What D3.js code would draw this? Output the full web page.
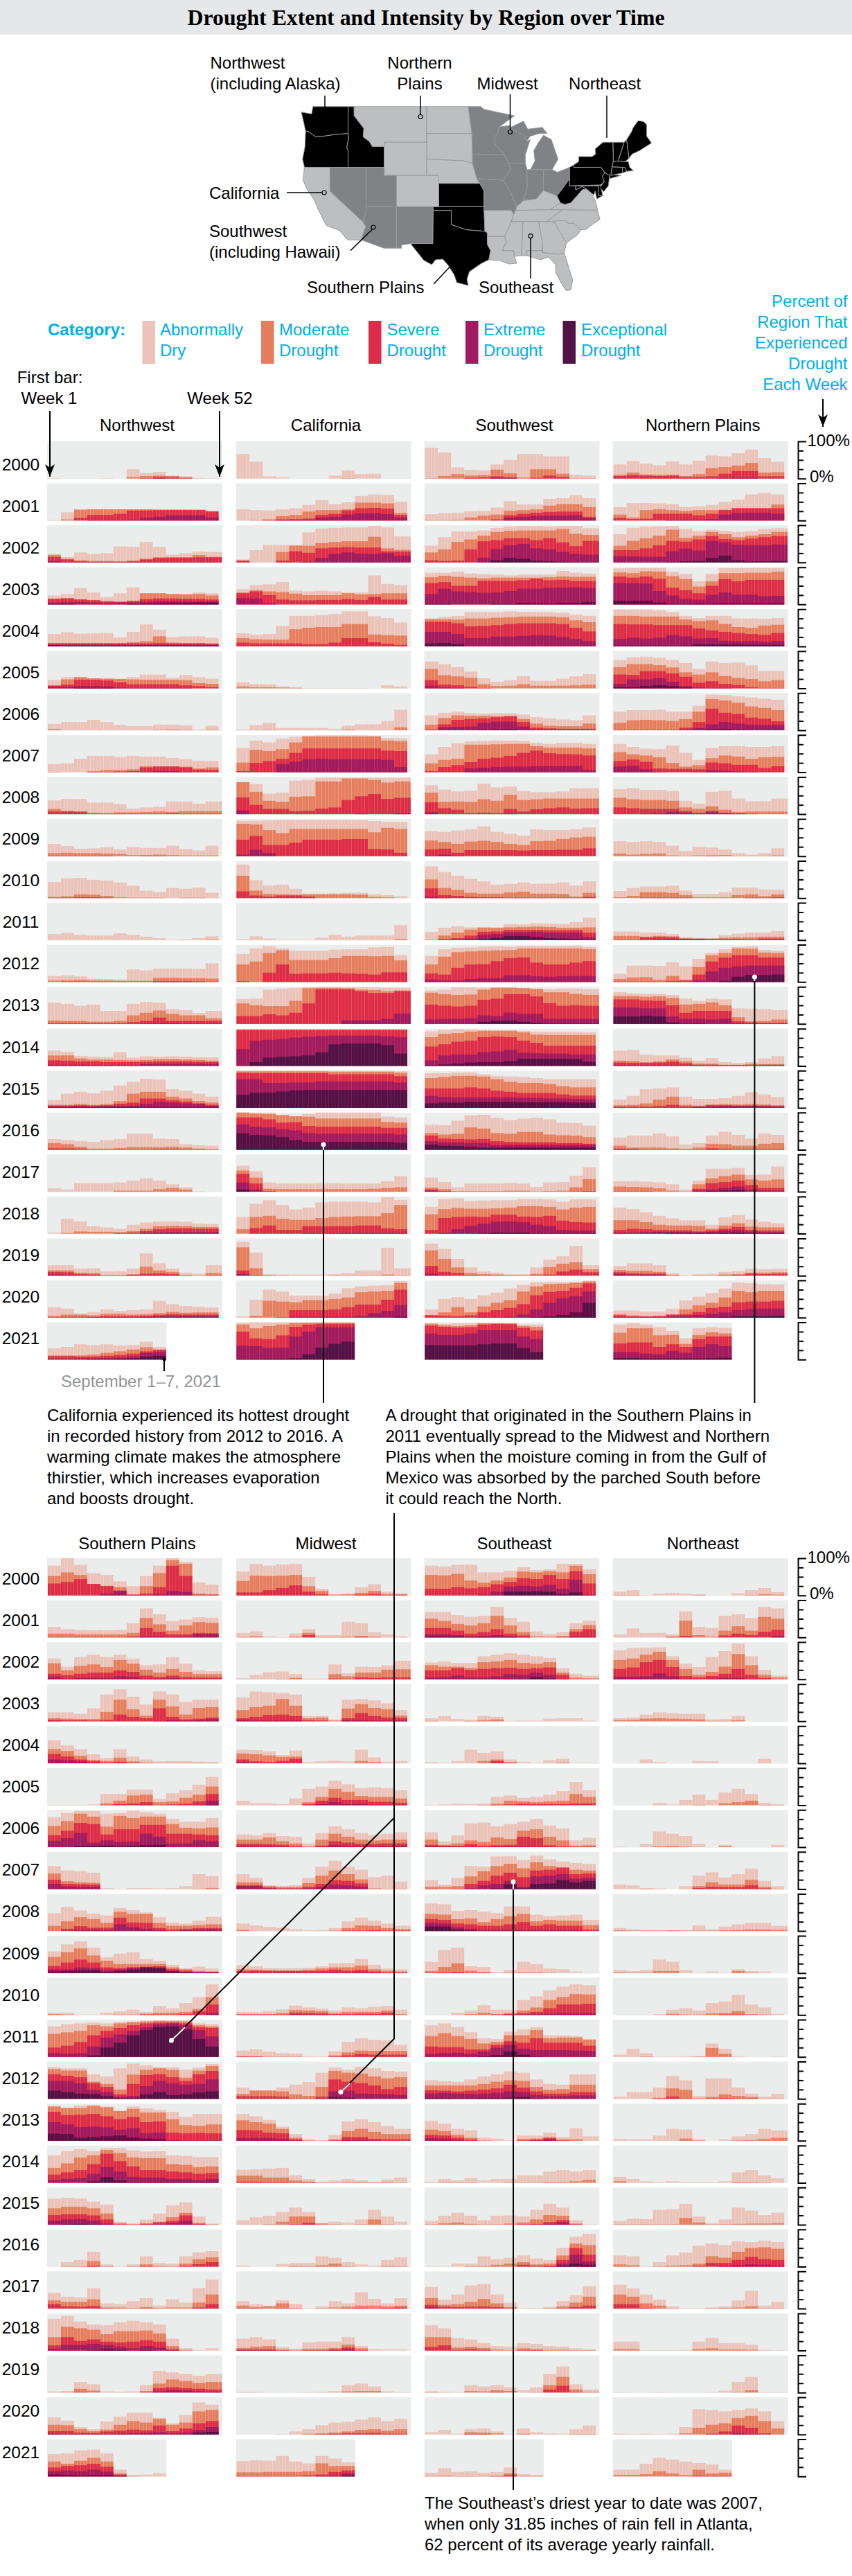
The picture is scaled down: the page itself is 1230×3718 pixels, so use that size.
<!DOCTYPE html>
<html lang="en">
<head>
<meta charset="UTF-8">
<title>Drought Extent and Intensity by Region over Time</title>
<script src="https://d3js.org/d3.v7.min.js"></script>
<style>
  body { margin: 0; background: #fff; }
  svg { display: block; font-family: "Liberation Sans", Arial, sans-serif; }
  .blue { fill: #00aeef; }
</style>
</head>
<body>
<svg id="chart" width="1230" height="3718"></svg>
<script>
// years, one row per year in each region array
const years = d3.range(2000, 2022);
const longYears = [2002, 2008, 2013, 2019]; // these have a 53rd weekly bar
const weeksIn2021 = 36;
const weeksPerValue = 4; // values, one per 4 weeks
const categories = ["Abnormally Dry", "Moderate Drought", "Severe Drought", "Extreme Drought", "Exceptional Drought"];
const categoryColors = ["#ebc3b8", "#e67e5d", "#dd2c47", "#a01b5f", "#511345"];
const tickLabels = ["100%", "0%"];

// each year: cumulative percent of the region at D0+, D1+, D2+, D3+, D4
const northwest = [
[[1,0,0,0,1,0,25,15,18,8,6,2,1],[0,0,0,0,0,0,4,7,8,7,4],[0,0,0,0,0,0,0,1,4,3,1],[0,0,0,0,0,0,0,0,1]],
[[1,22,30,30,30,30,30,30,30,30,30,29,26],[0,3,29,30,30,30,30,30,29,29,29,29,25],[0,0,7,15,15,18,27,27,28,28,28,28,24],[0,0,0,1,1,1,2,7,10,14,14,14,8]],
[[23,15,27,23,25,43,42,55,42,21,25,29,28],[20,10,6,4,4,3,5,10,14,14,14,20,15],[15,8,3,2,2,2,3,8,12,13,13,14,14],[4,1,1,1,1,1,1,1,1,1,1,1,1]],
[[24,28,44,32,20,30,46,30,30,28,28,32,30],[15,17,14,12,9,7,10,30,30,28,27,28,24],[15,16,13,11,8,7,9,14,16,16,15,15,13],[5,6,6,5,4,5,5,7,9,9,9,8,8],[1,1,0,0,0,0,1,2,3,4,4,5,5]],
[[33,38,34,35,36,24,39,59,45,25,27,27,23],[9,9,9,9,9,9,11,14,27,10,9,9,8],[8,8,8,8,8,8,8,8,9,8,8,8,7],[4,4,4,4,4,4,4,4,4,4,4,4,4],[3,2,2,2,2,2,2,2,2,2,2,2,2]],
[[22,30,30,27,26,26,30,37,37,28,36,30,26],[8,24,30,27,26,25,24,23,23,23,22,14,12],[7,10,23,23,21,16,11,11,11,11,8,6,3],[4,4,6,6,5,2,1,1,1,1,1,0,0],[0,0,1,1,1]],
[[17,22,22,28,22,14,11,11,15,15,13,2,12],[3,0,0,0,0,0,0,0,1,2,1,0,1]],
[[22,24,36,44,44,41,44,42,42,38,35,31,30],[1,0,0,3,6,6,8,16,16,16,15,10,13],[0,0,0,1,1,2,3,13,15,15,13,7,6],[0,0,0,0,0,0,0,1,3,3,1]],
[[37,41,41,31,31,27,15,18,20,34,34,28,34],[14,9,8,4,3,5,5,6,7,6,8,8,8],[7,7,6,1,1,1,1,1,1,2,1,1,1]],
[[33,27,20,21,24,18,24,22,22,28,19,15,28],[8,9,8,8,7,6,3,3,4,3,2,2,2],[1,1,1,1,1,0,0,1,1]],
[[43,53,54,49,47,42,33,20,16,27,25,28,14],[3,5,10,9,6,2,1,1,1,0,1,1,0],[1,1,2,2,1]],
[[16,19,14,12,12,18,14,9,5,1,2,5,10],[0,0,0,0,0,0,0,0,0,0,0,0,1]],
[[16,18,15,9,8,7,34,31,36,36,36,35,50],[4,5,6,4,4,3,3,3,11,11,10,10,9],[0,1,1,1,1,1,1,1,2,2,2,1,1],[0,0,0,0,0,0,0,0,1,1,1,1]],
[[57,54,49,52,35,35,54,59,57,40,37,29,35],[9,8,8,6,6,8,23,30,36,27,23,23,15],[2,2,2,2,2,2,5,8,17,8,8,8,8],[0,0,0,0,0,0,0,1,2,2,1,1,1]],
[[41,38,27,25,24,37,22,26,25,26,25,23,23],[28,28,20,17,17,16,15,16,18,18,17,16,14],[15,14,12,12,10,10,10,11,12,12,12,11,10],[3,3,3,2,2,2,2,5,6,6,6,6,5]],
[[21,38,43,39,46,60,70,78,76,50,46,38,30],[8,8,10,8,10,18,38,43,43,30,25,18,14],[6,6,7,6,7,11,14,25,25,20,17,12,8],[3,3,4,3,5,5,6,11,16,14,12,10,5],[1,1,1,1,1,1,1,1,1,1,1,1,1]],
[[29,26,23,21,26,29,43,43,30,29,15,12,11],[18,15,8,3,3,5,7,7,7,8,6,3,1],[4,4,3,1,1,1,1,1,2,2,1,1,1]],
[[9,6,23,23,23,25,30,36,30,20,12,1,0],[0,0,0,0,0,3,3,3,7,10,6]],
[[3,40,33,20,17,13,24,30,33,33,32,27,26],[0,2,6,5,5,4,7,13,20,21,20,18,18],[0,0,0,0,0,2,3,7,12,14,14,13,13],[0,0,0,0,0,0,0,2,3,4,4,4,4]],
[[28,28,19,20,11,12,19,60,33,19,8,5,28],[14,14,8,7,2,2,4,24,14,10,2,1,7],[10,9,4,3,1,1,2,5,6,4,1,0,1],[3,2,1,1,0,0,1,1,1,1]],
[[28,24,11,15,22,18,20,22,45,36,31,29,27],[5,8,8,6,10,10,8,9,12,15,13,14,14],[1,2,2,2,4,4,4,5,7,9,8,8,8],[0,0,0,1,1,1,1,2,3,4,4,5,4]],
[[30,34,41,39,41,38,39,48,34],[11,11,11,13,18,22,27,33,27],[9,9,8,8,10,12,16,22,26],[2,2,3,3,4,5,8,18,20],[0,0,0,1,1,2,3,8,10]]
];
const california = [
[[66,45,6,3,0,0,0,8,22,12,13],[0,0,0,0,0,0,0,0,1]],
[[30,28,27,30,33,42,55,44,49,66,70,69,50],[0,1,3,12,15,24,28,28,30,48,48,46,20],[0,0,1,3,4,5,15,18,27,33,34,32,15],[0,0,0,1,1,2,8,10,16,19,19,17,8]],
[[8,33,47,47,47,81,91,93,94,94,98,94,70],[5,0,0,28,45,45,52,55,57,57,69,38,34],[5,0,0,5,30,26,38,40,41,40,40,30,29],[0,0,0,0,0,2,12,23,27,23,23,25,18]],
[[41,52,54,60,37,35,37,35,32,32,78,55,52],[32,38,35,33,29,25,25,25,30,27,28,30,30],[30,35,25,13,11,11,12,12,14,12,20,13,13],[17,16,3]],
[[35,31,33,55,82,82,84,87,94,94,81,76,64],[22,19,18,18,46,50,52,52,60,60,32,30,29],[10,8,8,8,8,6,6,10,22,22,11,7,4]],
[[16,12,11,5,3,1,1,1,1,1,0,8,5],[5,3,3,2,1]],
[[2,14,20,6,6,6,6,4,12,16,16,25,55],[0,0,1,0,0,0,0,0,2,0,0,0,8]],
[[65,85,80,90,95,98,99,99,99,99,98,92,91],[26,60,57,62,80,96,96,96,96,96,96,85,83],[3,25,30,36,52,64,64,64,64,64,64,58,57],[0,0,0,22,28,35,36,35,35,35,35,33,14]],
[[86,81,55,58,90,92,98,98,98,98,98,98,98],[86,60,36,33,47,48,88,88,96,96,92,85,88],[45,25,14,14,8,9,15,18,38,48,54,41,44],[10,0,0,0,0,0,0,0,0,1,0,0,2]],
[[95,95,96,97,97,97,97,97,97,97,94,92,92],[87,85,70,62,73,73,73,73,73,73,64,76,73],[44,54,30,30,36,44,44,44,46,46,19,18,9],[4,17,8]],
[[90,48,34,36,25,12,12,13,14,14,10,8,5],[60,20,11,10,9,10,10,10,10,9,3,2,0],[18,7,4,7,7,4]],
[[2,10,4,1,1,1,6,14,9,12,12,12,40],[0,0,0,0,0,0,0,0,0,0,0,0,3]],
[[75,90,96,90,84,84,84,87,88,88,93,94,72],[47,55,78,85,59,59,59,64,70,70,69,70,58],[2,0,25,47,22,23,23,25,23,22,20,26,26]],
[[67,68,92,95,97,99,99,99,99,99,98,97,97],[55,50,48,48,62,96,97,97,96,92,91,88,90],[21,21,26,23,30,55,93,93,93,88,83,83,88],[0,0,0,0,0,0,0,0,10,10,10,13,28]],
[[99,99,99,99,99,99,99,99,99,99,99,99,99],[98,98,98,98,98,98,98,98,98,98,98,98,98],[96,96,96,96,96,96,96,96,96,96,96,96,96],[45,68,70,72,76,78,80,81,81,81,81,79,77],[0,10,22,24,26,28,36,58,60,60,60,56,33]],
[[100,100,100,100,100,100,100,100,100,100,100,100,98],[98,98,98,98,98,98,98,97,97,97,97,97,94],[94,93,93,93,93,93,93,90,90,90,90,90,85],[77,77,67,67,68,68,71,71,71,71,71,71,68],[35,40,41,44,47,48,48,48,48,48,48,48,48]],
[[100,100,100,94,91,96,100,100,100,100,100,89,87],[100,97,96,93,90,89,84,84,84,84,84,75,73],[87,87,82,73,74,64,62,62,62,62,62,59,59],[68,62,60,55,52,45,43,43,43,43,43,43,41],[44,40,39,34,26,21,21,21,21,21,21,21,19]],
[[70,55,25,22,22,22,23,23,22,22,22,28,42],[57,38,8,7,7,7,7,7,7,7,8,10,12],[48,22,2],[25,6],[6]],
[[45,80,90,77,65,70,84,86,86,86,84,98,91],[12,45,48,40,37,37,42,45,46,47,47,55,77],[0,15,22,10,10,20,20,20,20,22,22,14,12],[0,0,0,0,0,1,1,1,2,2,2,2,2]],
[[91,62,4,3,3,3,3,4,7,14,14,75,20],[76,20,2,1,0,0,0,1,1,1,1,3,1],[14,2],[4]],
[[3,48,75,70,59,59,59,65,79,84,86,87,98],[0,5,45,43,41,47,47,50,54,68,70,72,93],[0,0,0,1,20,20,20,22,28,35,35,48,75],[0,0,0,0,2,2,2,2,2,4,12,18,34],[0,0,0,0,0,0,0,0,0,0,0,0,2]],
[[99,100,100,100,100,100,100,100,100],[94,84,90,94,98,99,99,99,99],[75,57,55,65,88,94,96,96,96],[37,36,31,32,62,75,87,87,87],[1,1,2,2,4,14,32,42,48]]
];
const southwest = [
[[83,70,30,23,22,38,50,66,66,60,60,10,8],[1,7,12,8,9,24,14,3,25,25,13,1,1],[0,0,0,2,3,6,3,0,2,8,4],[0,0,0,0,0,2,2]],
[[17,20,21,25,26,35,52,43,43,58,60,68,60],[1,1,2,8,13,16,26,28,30,40,44,44,36],[0,0,0,0,0,3,14,18,21,23,24,24,10],[0,0,0,0,0,0,8,10,12,13,13,14,6]],
[[45,68,83,83,86,93,97,98,98,97,98,98,92],[27,35,55,62,72,82,85,86,86,86,90,77,74],[6,4,5,35,57,60,65,65,60,65,54,44,58],[0,0,0,0,13,36,46,50,38,35,28,23,21],[0,0,0,0,0,6,12,10,5,3,2,1,1]],
[[85,85,88,83,81,80,78,80,80,80,90,85,83],[73,77,74,72,70,72,72,72,72,73,75,74,74],[57,60,50,50,63,63,63,65,69,65,66,63,63],[28,42,35,33,31,32,36,42,42,44,45,46,44],[1,1,0,0,0,1,1,4,3,2,4,4,6]],
[[75,79,82,92,92,92,94,93,93,92,90,85,82],[73,73,72,75,75,77,78,80,80,80,78,70,65],[66,66,62,54,55,57,60,62,62,62,60,50,40],[39,39,33,22,22,26,26,28,30,29,25,20,14],[8,9,6]],
[[72,65,57,45,27,18,22,33,20,20,26,32,38],[52,35,32,28,11,6,7,11,7,7,7,8,10],[22,10,8,4,1],[7,2,1]],
[[40,47,50,46,45,46,46,42,35,32,29,27,40],[15,33,40,39,39,38,39,30,18,12,11,11,18],[2,16,28,30,32,35,37,22,7,5,4,4,4],[0,8,9,10,20,23,23,10,2,1,1,1,1],[0,0,0,0,1,2,2]],
[[48,68,78,83,84,85,85,84,79,76,79,79,76],[24,33,36,74,74,75,76,76,70,66,66,66,64],[3,14,19,27,36,39,44,52,58,51,49,48,45],[0,0,0,10,12,14,15,15,16,16,16,17,6]],
[[78,66,61,63,82,72,74,62,59,59,61,70,70],[58,33,34,33,40,36,52,38,40,42,42,42,42],[32,16,12,3,4,3,14,7,13,16,18,15,16],[5,0,0,0,0,0,1]],
[[67,65,69,72,80,65,60,55,72,70,70,72,77],[42,38,33,39,41,38,33,30,40,41,46,50,52],[18,20,9,16,16,16,16,15,16,16,17,17,21],[1,4,1]],
[[85,70,60,52,45,36,38,42,38,39,42,34,45],[50,27,22,14,12,12,15,17,12,12,11,4,14],[26,8,6,3,2,2,1,1,1,1,1,1,3],[3,1]],
[[22,33,37,34,35,34,43,42,45,44,43,48,60],[1,12,20,28,33,33,34,35,36,35,33,33,34],[0,3,5,12,22,23,27,27,27,26,26,27,20],[0,0,1,4,14,16,21,21,22,20,19,20,8],[0,0,0,0,2,6,11,11,8,5,4,3,1]],
[[70,88,92,93,95,96,95,97,97,97,97,98,94],[47,68,80,82,84,85,86,90,90,90,90,90,88],[23,20,38,47,48,56,64,66,52,47,47,52,56],[6,4,4,8,10,10,18,18,15,14,15,16,16]],
[[90,92,98,98,97,98,98,97,95,93,95,95,93],[84,80,78,79,92,97,97,96,94,85,85,81,78],[52,49,47,49,65,68,80,80,74,56,49,50,49],[12,13,14,15,23,21,30,27,27,14,13,13,13],[0,0,0,0,6,8,9,6,3,1,1,1,1]],
[[93,97,99,98,97,96,96,94,92,92,92,91,90],[77,86,88,92,94,94,94,90,84,83,83,83,83],[52,58,65,68,77,79,77,68,62,54,54,54,54],[15,28,31,30,37,39,43,35,34,33,33,31,31],[2,4,6,9,10,10,13,19,19,19,19,18,11]],
[[93,93,95,95,90,86,84,83,80,77,77,77,77],[80,83,86,86,84,77,70,67,67,64,58,55,55],[52,52,52,55,52,46,43,40,40,40,36,33,33],[32,29,28,28,28,28,28,27,26,25,25,24,23],[12,14,14,16,16,16,16,15,15,15,15,14,14]],
[[67,66,78,92,94,86,80,84,86,82,73,72,65],[45,41,43,60,57,45,43,48,48,41,39,38,34],[38,30,29,28,29,23,21,20,20,20,18,18,16],[23,20,20,18,18,13,13,13,13,13,13,13,13],[14,11,10,8,6,6,6,6,6,6,6,6,6]],
[[38,26,12,22,22,22,24,22,13,25,26,43,66],[11,7,2,2,2,2,3,3,1,2,3,12,34],[6,2,0,0,0,0,0,0,0,0,0,1,2],[3]],
[[72,93,95,88,89,90,90,93,93,92,86,92,92],[52,66,69,67,67,68,70,74,74,72,65,70,72],[10,42,45,46,45,51,51,46,45,48,35,31,30],[0,2,12,21,27,32,33,31,24,20,10,9,9],[0,0,0,0,1,3,3,3,1,1,1,1,1]],
[[86,72,45,22,11,8,4,4,22,43,52,80,28],[68,45,22,7,4,3,2,2,5,23,32,36,17],[26,10,7,2,1,1,0,0,1,3,11,16,9],[5,1]],
[[22,50,55,50,60,67,78,88,95,95,95,96,99],[7,14,28,14,30,40,47,70,84,90,91,93,97],[6,5,4,6,14,20,26,36,60,69,72,80,92],[0,0,0,0,1,1,2,8,22,40,52,57,70],[0,0,0,0,0,0,0,0,1,3,7,14,40]],
[[98,96,98,98,99,98,98,94,94],[96,92,90,92,97,97,97,90,88],[91,88,86,87,94,96,95,85,78],[70,66,66,70,79,79,79,62,55],[39,38,38,38,41,43,43,31,20]]
];
const northernPlains = [
[[38,47,40,36,46,38,48,62,60,68,78,55,45],[10,16,11,10,10,7,12,28,31,35,42,16,17],[7,9,8,7,8,4,4,6,13,20,20,6,6],[0,0,0,0,0,0,0,0,1,2,2]],
[[36,47,47,46,44,36,38,42,50,56,70,74,70],[16,8,28,30,28,26,28,28,29,33,33,33,43],[7,4,5,18,18,18,14,18,28,33,33,33,33],[0,0,0,0,1,2,2,4,16,20,21,21,18]],
[[76,93,96,97,98,90,84,88,85,82,84,90,92],[45,58,65,72,88,66,72,82,76,68,72,76,82],[33,33,38,46,58,56,62,71,63,60,64,68,71],[17,16,15,15,30,37,32,58,54,47,46,46,48],[0,0,0,0,1,3,4,12,18,6,3,3,4]],
[[97,98,98,98,88,82,62,82,98,98,98,98,98],[86,84,89,88,76,68,48,62,84,84,85,85,88],[75,72,75,69,45,38,30,50,68,62,66,66,66],[57,57,56,36,24,15,13,26,32,26,26,22,23],[10,10,10,5,1,1,2,2,3,3,3,3,3]],
[[99,99,99,97,92,82,76,82,82,75,75,74,76],[82,82,80,80,80,72,68,70,60,52,50,56,58],[60,59,59,57,57,57,48,43,39,36,33,31,36],[20,23,21,23,30,27,21,22,15,14,14,12,14],[2,2,2,2,1,2,5,5,5,5,4,4,4]],
[[76,83,85,82,76,68,52,72,68,69,62,47,47],[57,65,65,62,56,43,37,43,33,28,25,19,22],[37,36,46,46,40,31,15,19,12,9,3,1,1],[12,24,24,27,18,6,2,1,1],[3,3,6,8,6,2]],
[[50,54,54,55,50,50,66,96,95,91,88,85,82],[20,27,28,27,25,30,50,84,80,74,64,60,54],[1,1,1,1,1,7,22,58,47,44,34,31,24],[0,0,0,0,0,1,6,16,22,18,15,14,14],[0,0,0,0,0,0,0,2,3,1]],
[[76,68,63,62,72,52,33,65,70,70,68,68,70],[54,48,45,40,25,15,19,38,45,42,36,40,41],[30,34,28,10,9,9,8,26,24,20,20,11,16],[15,17,8,1,0,0,1,5,4,2,1]],
[[67,70,65,65,62,36,28,60,63,42,35,35,42],[44,40,38,38,36,18,14,21,12,6,7,7,7],[18,16,14,14,14,8,4,9,4,2,1],[0,0,1,2,6,4,1,5,2,1]],
[[40,38,40,38,28,14,25,23,18,8,4,8,21],[7,4,6,7,2,1,2,2,3,1,1,1,2],[0,0,0,0,0,0,0,1]],
[[19,27,31,31,33,20,11,11,16,28,28,23,23],[2,6,16,16,14,8,2,2,2,8,10,5,10],[0,0,1,1,1,1,0,0,0,0,1,1,2]],
[[23,23,20,20,16,8,6,5,13,17,20,20,24],[11,11,9,11,10,5,4,4,6,7,7,9,9],[1,1,7,8,7,3,3,2,2,2,2,4,4],[0,0,0,1,2,2,2,1,1,1,0,1,1]],
[[22,44,44,43,53,42,62,78,88,94,96,86,84],[8,12,13,6,16,6,40,72,78,90,89,79,78],[1,1,1,1,3,4,20,55,66,72,72,66,66],[0,0,0,0,0,0,5,28,38,42,44,44,44],[0,0,0,0,0,0,0,0,3,14,19,19,20]],
[[85,82,81,81,78,68,62,68,66,42,41,40,37],[75,75,73,74,70,52,54,58,50,18,7,8,12],[66,66,63,62,50,30,35,35,35,7,4,3,3],[44,44,42,42,20,13,14,12,14,2,1,1,1],[20,20,22,20,4,1,1]],
[[41,43,30,28,28,22,14,21,10,8,10,20,26],[14,13,10,12,17,12,6,6,3,3,5,5,5],[9,8,8,9,11,7,3,3,2,2,2,3,3],[2,2,2,2,2,1,1,1,1,1,1,1,1]],
[[22,32,50,52,55,30,24,24,26,32,42,36,29],[7,8,12,22,30,8,6,9,10,9,10,9,7],[3,3,3,5,8,4,4,7,7,6,6,6,5],[0,0,0,0,0,0,2,4,5,5,5,4,3]],
[[33,38,38,44,36,14,18,38,48,40,30,44,40],[11,6,6,6,4,2,6,16,15,11,11,16,18],[3,2,1,1,1,1,1,4,3,2,2,2,2],[1,1,0,0,0,0,0,1]],
[[28,28,27,25,20,6,30,62,62,64,45,46,68],[14,13,12,9,3,1,20,36,42,46,33,30,33],[1,1,1,0,0,0,8,23,26,30,18,10,10],[0,0,0,0,0,0,3,6,10,14,6,3,3],[0,0,0,0,0,0,0,2,3,5]],
[[70,66,58,48,41,36,36,24,44,50,38,32,28],[36,36,31,24,22,22,21,13,22,28,19,17,17],[10,13,12,10,9,9,6,9,13,18,10,8,8],[3,3,4,5,5,5,4,5,8,10,6,4,4],[0,0,0,0,1,1,1,1,2,3,1,1,1]],
[[26,33,33,28,7,2,4,5,10,12,18,17,18],[15,13,13,10,2,0,1,1,3,4,8,8,9],[9,6,5,5,1,0,0,0,1,2,5,4,5],[4,3,3,3]],
[[19,19,16,16,24,46,56,66,78,94,92,90,89],[9,6,4,4,8,22,33,40,54,72,68,72,72],[6,3,3,4,8,9,15,26,29,41,43,43,45],[1,1,1,1,3,5,7,10,14,20,23,24,24],[0,0,0,0,0,0,0,1,2,4,4,4,5]],
[[94,98,94,87,77,57,84,87,85],[72,84,84,65,66,42,66,73,70],[43,46,46,34,41,34,55,62,62],[20,20,16,14,23,18,34,41,36],[4,4,3,3,3,3,3,4,5]]
];
const southernPlains = [
[[80,100,82,60,55,38,25,52,80,100,90,35,29],[52,62,55,30,26,22,3,25,60,95,85,5,3],[32,36,44,31,25,11,2,5,22,80,52,2,2],[0,0,0,0,5,13,1,1,3,12,9]],
[[28,22,20,19,19,20,38,78,62,44,48,54,53],[10,10,8,8,8,8,12,52,35,18,32,41,39],[1,1,1,1,1,1,3,25,15,8,8,12,11],[0,0,0,0,0,0,0,3,2,1,2,8,9]],
[[56,34,60,66,60,66,55,38,40,60,42,24,22],[43,24,36,40,33,52,42,26,18,28,20,14,14],[15,11,15,18,18,24,20,10,6,10,6,5,5],[7,2,4,4,4,8,6,2,2,3,1],[0,0,0,0,0,0,0,1,1,1]],
[[24,24,20,35,72,86,66,45,80,72,52,58,58],[8,7,6,6,25,58,32,15,58,40,18,36,38],[4,3,3,2,4,18,12,8,35,12,5,7,10],[1,0,0,0,0,0,0,0,1,3,2,3,6]],
[[62,48,38,24,14,38,18,10,5,6,6,4,3],[38,33,20,9,6,15,5,2,1,1,1,1,1],[25,18,10,5,2,4,1],[10,8,5,1]],
[[1,1,1,2,30,30,42,42,17,32,40,55,76],[0,0,0,0,5,12,26,28,8,10,20,28,50],[0,0,0,0,1,3,5,8,1,2,4,10,30],[0,0,0,0,0,0,0,1,0,0,0,1,12],[0,0,0,0,0,0,0,0,0,0,0,0,1]],
[[80,92,97,97,90,92,98,94,90,76,68,68,78],[57,70,90,82,55,84,78,82,82,62,52,50,53],[32,44,65,62,34,48,48,60,60,36,36,34,32],[17,24,38,12,18,14,15,36,28,10,10,18,16],[0,0,3,3,4,2,3,5,6]],
[[62,50,48,44,3,1,3,3,2,3,8,40,35],[42,21,18,17,0,0,0,0,0,0,0,1,3],[25,14,13,12],[14,7,6,6]],
[[48,65,55,47,42,62,56,50,37,23,20,28,38],[14,26,37,32,22,52,46,46,22,14,14,16,18],[0,6,13,9,9,36,23,22,8,4,6,8,8],[0,0,2,3,2,18,10,6,2,0,2,3,5]],
[[58,77,85,68,42,52,56,38,33,22,13,17,12],[43,56,66,47,33,24,24,24,24,15,10,6,4],[19,28,36,28,15,13,13,17,18,10,6,3,3],[10,10,15,13,8,10,15,16,15,6,3,2,2],[4,5,7,7,3,5,9,14,13,4,2,1,1]],
[[6,6,1,1,6,10,14,8,24,18,32,48,82],[2,1,0,0,0,1,1,3,6,6,8,16,48],[0,0,0,0,0,0,0,1,1,1,2,10,28],[0,0,0,0,0,0,0,0,0,0,0,0,5]],
[[82,88,90,92,90,94,95,97,97,98,98,90,88],[62,66,70,85,82,90,93,95,97,96,95,85,82],[25,30,40,58,70,78,85,90,92,92,90,80,78],[10,9,10,28,52,60,70,80,88,90,85,72,55],[0,0,0,4,25,38,58,72,80,82,74,48,28]],
[[85,82,82,66,60,82,95,90,85,85,78,84,94],[80,76,76,46,40,25,65,78,82,78,57,76,88],[66,62,58,42,32,12,40,64,66,58,48,66,75],[48,48,42,24,18,6,8,34,48,42,38,40,52],[22,18,14,13,7,2,2,12,18,10,12,17,20]],
[[94,89,95,96,92,81,92,87,83,78,64,72,72],[92,88,88,94,90,80,86,76,76,58,42,40,44],[78,69,70,72,66,58,64,50,52,22,20,21,20],[50,44,37,38,36,30,34,20,22,2,1,1,1],[19,18,8,10,12,14,9,6,4]],
[[74,85,90,85,93,93,87,84,85,74,72,69,69],[40,52,68,74,88,80,68,66,66,50,48,42,44],[22,28,34,50,78,58,44,34,34,30,28,24,26],[7,10,12,24,42,30,16,14,14,10,10,7,10],[0,0,0,4,15,6,1,1,1,1,1,1,1]],
[[70,72,70,62,54,8,3,14,30,52,60,22,3],[44,48,48,44,30,4,2,4,8,20,32,5,1],[26,28,28,25,14,1,0,2,6,10,25,2],[11,14,15,11,3,0,0,0,1,4,10],[0,1,2,1]],
[[0,12,18,40,6,1,6,28,10,8,28,38,42],[0,1,1,15,1,0,1,6,2,1,8,20,25],[0,0,0,2,0,0,0,1,0,0,2,7,12]],
[[42,32,30,55,14,12,20,28,8,25,16,55,78],[22,18,18,25,3,3,2,4,2,3,3,16,38],[12,6,5,7,1,0,0,1,0,0,0,3,12]],
[[85,93,78,70,68,76,80,76,70,32,6,2,6],[36,64,60,56,44,52,52,54,46,12,2],[14,36,26,30,24,22,24,28,24,4],[5,15,15,18,15,10,6,12,8,1],[0,0,0,1,4,2,0,1]],
[[3,4,28,22,3,2,3,20,58,54,50,45,50],[0,1,10,5,0,0,0,4,24,35,31,26,28],[0,0,1,0,0,0,0,1,12,14,12,10,8],[0,0,0,0,0,0,0,0,3,6,5,3,2]],
[[46,37,20,14,35,48,58,58,45,30,52,86,80],[26,25,14,9,13,26,36,32,42,26,32,62,66],[9,9,5,4,8,10,13,11,24,9,16,30,36],[2,1,1,1,1,2,3,4,6,3,5,12,20],[0,0,0,0,0,0,0,0,0,0,0,5,7]],
[[60,62,70,72,62,18,4,5,8],[40,34,42,50,40,8,1],[24,28,30,34,26,5],[14,16,14,18,13,2],[5,4,3,4,4,1]]
];
const midwest = [
[[64,85,80,83,85,50,18,3,5,22,30,10,6],[39,53,52,53,55,25,12,2,3,7,12,4,3],[8,8,14,20,27,10,3,0,0,2,4,1,1]],
[[12,16,3,1,11,22,6,6,42,38,14,8,3],[1,3,0,0,2,12,1,1,2,4,2],[0,0,0,0,0,6,0,0,0,1]],
[[3,12,19,21,14,2,2,40,16,34,33,38,50],[0,0,0,1,4,0,0,14,8,18,18,26,27],[0,0,0,0,0,0,0,2,1,5,4,5,5]],
[[64,80,78,76,72,14,14,5,58,60,56,48,30],[30,38,42,60,42,8,10,2,34,46,36,32,15],[8,12,17,18,14,3,2,0,8,22,14,10,9],[3,2,2,2,2,0,0,0,3,3,2,2,2]],
[[36,35,32,22,34,3,5,7,5,36,16,4,6],[26,24,21,17,18,0,0,0,0,6,3],[10,5,3,6,12],[3]],
[[12,6,5,3,18,44,50,66,56,46,48,46,40],[0,0,0,0,0,8,22,44,36,25,22,22,18],[0,0,0,0,0,3,12,20,14,14,9,9,6],[0,0,0,0,0,0,3,8,3,4,1,1,1]],
[[34,32,38,30,28,10,38,56,48,38,32,36,40],[20,20,26,16,10,2,20,36,28,20,18,20,20],[9,9,8,6,3,0,4,16,12,9,9,10,10],[2,2,2,1,0,0,1,5,3,2,2,2,3]],
[[40,30,10,8,10,30,60,76,60,52,32,36,20],[18,18,8,6,6,16,36,50,40,26,2,1,1],[10,10,4,2,2,6,14,24,22,15],[8,8,2,1,1,2,5,12,10,6]],
[[20,15,11,9,5,2,3,8,26,36,28,20,14],[3,0,0,0,0,0,0,1,8,15,14,8,5],[0,0,0,0,0,0,0,0,1,1,2,1,1]],
[[21,18,13,13,13,14,18,26,27,38,22,12,10],[10,9,8,7,7,9,12,15,15,20,10,6,4],[5,6,5,5,5,5,6,9,6,8,4,2,2],[1,1,1,1,1,1,1,2,1,2,1]],
[[8,8,10,15,25,20,17,12,20,18,22,24,14],[2,2,2,5,13,12,10,5,8,8,8,12,2],[1,1,1,1,6,5,4,2,2,3,3,6],[0,0,0,0,1,1,1]],
[[17,20,14,10,9,2,1,15,40,50,46,44,32],[2,2,1,1,1,0,0,4,12,17,16,16,16],[1,1,0,0,0,0,0,1,4,8,6,6,6]],
[[30,23,23,30,38,45,70,84,78,86,82,75,73],[13,22,22,20,12,8,32,75,70,68,60,55,58],[7,7,7,6,1,1,6,52,46,42,36,26,32],[0,0,0,0,0,0,1,20,22,14,13,12,10],[0,0,0,0,0,0,0,5,3]],
[[72,66,56,38,18,4,2,16,52,58,50,40,32],[55,50,46,32,8,1,0,4,26,32,24,18,18],[29,28,22,20,4,0,0,1,10,10,5,4,4],[7,7,7,5,1,0,0,0,2,2,1]],
[[35,36,38,40,20,10,3,6,10,6,3,9,14],[19,19,14,14,6,3,1,1,2,2,1,2,1],[3,3,2,2,1,1]],
[[12,20,24,34,46,34,5,8,6,14,40,22,8],[0,0,1,8,22,22,3,1,0,1,14,1],[0,0,0,0,1,5]],
[[3,0,0,7,10,10,28,24,12,6,3,18,25],[0,0,0,0,2,1,4,8,1,0,0,2,1]],
[[20,12,8,22,12,1,6,20,14,44,26,14,28],[8,4,6,14,2,0,1,3,5,8,8,6,8],[1,1,0,1,0,0,0,0,1,2,1,2,3]],
[[32,36,30,10,5,22,24,24,36,12,4,3,3],[7,10,12,3,2,5,5,7,16,6],[3,3,3,1,0,1,1,3,8,1],[1,1,1,0,0,0,0,1,3]],
[[2,2,0,0,0,1,2,4,20,24,16,3,1],[0,0,0,0,0,0,0,0,3,4,4]],
[[0,0,0,1,8,14,25,32,34,40,46,36,42],[0,0,0,0,0,2,3,5,8,12,14,10,14],[0,0,0,0,0,0,1,2,3,3,4,2,2]],
[[41,43,42,55,40,35,55,48,38],[11,11,12,12,12,14,35,28,28],[1,1,1,1,1,3,5,12,16],[0,0,0,0,0,0,1,2,8],[0,0,0,0,0,0,0,0,2]]
];
const southeast = [
[[80,78,82,82,62,62,66,76,68,70,85,85,70],[55,54,58,40,34,40,48,64,62,65,62,80,57],[18,18,22,19,22,30,36,46,44,55,44,65,32],[0,0,0,0,2,10,24,26,24,28,18,42,2],[0,0,0,0,0,0,10,10,11,10,3,8]],
[[68,68,60,55,58,82,52,42,16,9,14,38,45],[50,44,36,32,38,58,32,14,3,2,3,22,33],[25,25,18,10,14,22,10,5,0,0,2,15,22],[8,8,6,2,4,6,2,1,0,0,0,2,2],[2,2,2,1,1,1,1]],
[[45,48,44,44,62,66,70,66,62,58,30,15,10],[38,34,34,30,46,48,52,44,42,46,18,5,3],[24,24,30,25,28,30,31,28,30,32,12],[5,6,10,5,5,8,14,12,18,12,1],[0,0,0,0,0,0,1,1,6,2]],
[[8,14,6,4,14,12,1,2,2,7,8,8,2],[1,0,0,1,3,5]],
[[3,1,6,36,28,32,10,4,1,8,12,1,1],[0,0,0,0,6,10,3,0,0,0,2],[0,0,0,0,0,6,1]],
[[1,2,4,3,4,22,26,20,22,28,38,62,40],[0,0,0,0,1,4,12,10,8,10,12,30,22],[0,0,0,0,0,1,2,4,3,3,3,5,5]],
[[40,16,32,64,66,56,62,68,76,58,50,18,25],[20,6,10,18,14,26,22,44,48,28,18,4,5],[6,4,3,8,4,5,6,28,24,5,2,1,1],[2,1,1,1,0,1,1,2,1]],
[[24,12,30,62,60,88,88,78,90,80,74,70,68],[6,6,8,34,48,62,68,56,72,62,55,52,50],[1,0,1,14,22,36,44,32,50,52,58,40,42],[0,0,0,2,10,14,22,6,34,36,40,28,30],[0,0,0,0,0,2,12,2,14,15,24,18,22]],
[[74,72,54,56,52,48,66,66,44,40,42,44,30],[46,44,32,34,24,32,40,46,26,30,28,28,16],[32,30,20,18,14,14,18,24,14,18,14,14,4],[22,20,10,6,3,3,3,3,3,2,2,2],[12,12,4,1]],
[[30,62,68,18,16,3,8,30,24,12,10,4,1],[5,16,26,6,3,0,1,2,2,1],[1,2,3,1,1]],
[[0,0,6,12,26,14,14,40,50,66,76,82,80],[0,0,0,2,6,2,5,12,20,40,48,56,55],[0,0,0,0,0,1,2,5,8,18,28,28,30],[0,0,0,0,0,0,1,1,2,3,5,4,5]],
[[85,90,80,66,50,48,68,74,80,58,58,56,48],[56,64,56,48,36,40,58,58,72,50,52,52,46],[28,26,26,20,20,32,42,38,50,38,38,38,30],[8,10,11,8,14,24,32,22,18,18,18,17,16],[0,0,0,0,1,5,15,6,1]],
[[50,48,46,52,60,66,74,70,52,40,38,66,66],[36,36,36,36,40,46,50,48,32,24,26,38,38],[23,22,20,22,25,28,38,30,20,14,14,18,18],[14,16,14,13,14,16,20,18,10,7,7,9,9],[2,2,1,1,2,2,3,5,1]],
[[54,46,32,28,8,6,1,14,14,22,10,34,12],[30,26,16,8,1,0,0,5,6,10,4,4],[16,14,8,3,0,0,0,1,3,7,1],[7,6,2,0,0,0,0,0,1,3]],
[[3,10,6,12,6,10,10,20,20,30,34,30,34],[0,1,1,1,0,0,1,1,1,2,2,4,8]],
[[10,24,32,24,12,24,25,22,40,56,46,12,1],[1,4,6,2,1,1,3,6,14,26,24,3],[0,0,0,0,0,0,0,1,2,7,12,1],[0,0,0,0,0,0,0,0,0,2,6]],
[[1,1,8,8,28,20,24,30,22,18,50,80,88],[0,0,0,1,2,5,8,12,6,8,30,62,58],[0,0,0,0,0,0,0,5,2,2,18,50,32],[0,0,0,0,0,0,0,0,0,1,8,32,14],[0,0,0,0,0,0,0,0,0,0,2,8,5]],
[[58,24,38,62,66,38,16,1,2,4,20,36,60],[28,10,12,18,26,14,4,0,0,1,6,16,32],[10,5,4,5,6,4,1,0,0,0,1,4,8],[3]],
[[68,60,34,30,20,12,10,20,18,12,10,6,4],[36,36,8,10,7,3,1,6,4,2,2,1,1],[10,14,2,4,2,0,0,1,1]],
[[3,2,1,20,16,20,14,6,14,50,70,22,8],[1,0,0,4,3,6,4,0,1,20,42,8,2],[0,0,0,0,0,1,0,0,0,8,18,1]],
[[6,12,2,14,16,8,1,16,6,3,2,14,24],[0,0,0,6,5,3,0,2,0,0,0,1,1],[0,0,0,1,1]],
[[10,22,12,14,10,12,24,6,4],[1,2,1,1,1,1,8,1,1],[0,0,0,0,0,1,3]]
];
const northeast = [
[[10,14,1,5,7,5,3,0,0,6,14,20,9],[1,1,0,0,0,0,1,0,0,0,1,3,2]],
[[8,24,12,12,8,70,28,25,58,62,52,82,78],[0,0,0,0,2,45,6,2,18,30,18,55,50],[0,0,0,0,1,4,0,0,5,10,6,15,20],[0,0,0,0,0,0,0,0,0,0,0,0,4]],
[[78,84,85,86,62,42,33,60,76,96,62,25,10],[52,56,66,74,52,28,12,20,34,68,38,12,5],[28,32,46,52,33,9,5,9,15,28,12,4],[7,7,8,16,8,1,0,2,4,4,1]],
[[8,10,18,24,22,20,20,5,6,14],[3,4,7,8,7,6,5,1,1,3]],
[[0,0,10,3,0,0,6,5,0,0,0,12]],
[[0,0,0,6,2,14,28,14,34,44,30,6,2],[0,0,0,0,0,0,1,0,5,8,12,1,1]],
[[1,0,8,42,36,30,8,0,6,0,0,0,6],[0,0,0,2,3,1,0,0,2]],
[[12,10,3,2,0,8,36,45,31,40,55,22,8],[0,0,1,0,0,0,8,18,12,12,25,6,1],[0,0,0,0,0,0,3,6,5,5,10,2]],
[[8,5,3,2,2,2,15,5,12,18,22,22,14],[2,1,1,1,2,1,1,1,2,3,4,4,3]],
[[8,5,8,36,30,8,1,4,1,10,5,4,0],[2,1,1,5,5,0,0,0,0,5,1]],
[[0,0,0,2,14,18,12,32,36,54,28,20,3],[0,0,0,0,3,1,1,4,5,10,2,1],[0,0,0,0,0,0,0,0,1,1]],
[[6,22,10,1,1,2,2,36,22,2,0,0,1],[0,0,1,0,0,0,1,24,8]],
[[6,18,18,30,62,50,8,55,55,30,14,6,13],[0,0,0,3,28,24,2,5,12,8,5,1,1],[0,0,0,1,6,1,0,1,2,1,1]],
[[5,4,4,14,32,30,4,0,4,12,18,32,28],[0,0,0,0,0,6,1,0,0,1,2,5,8]],
[[16,10,4,2,4,2,2,2,4,28,34,20,12],[4,0,0,0,0,0,0,0,0,2,2,1]],
[[10,16,15,40,42,56,22,4,14,46,38,26,32],[1,1,1,1,1,18,6,1,1,2,3,3,4]],
[[30,28,1,12,30,38,56,62,58,68,66,70,66],[6,4,0,1,3,4,8,28,24,40,50,52,48],[0,0,0,0,0,0,2,10,10,18,26,20,18],[0,0,0,0,0,0,0,0,2,4,6,5,3]],
[[64,54,38,24,6,1,1,3,6,22,48,8,18],[38,32,14,8,1,0,0,1,2,3,6,1,1],[12,12,2]],
[[24,24,1,1,1,2,24,34,20,20,16,2,1],[4,4,0,0,0,0,4,6,3,3,2]],
[[1,0,0,1,0,0,0,1,5,28,42,1,1],[0,0,0,0,0,0,0,0,0,1,6]],
[[2,1,2,1,2,20,68,66,62,66,70,62,36],[0,0,0,0,0,3,18,26,30,44,50,36,16],[0,0,0,0,0,0,0,2,8,24,18,3],[0,0,0,0,0,0,0,0,0,3,1]],
[[18,18,34,50,45,40,36,32,18],[4,4,6,14,8,4,18,8,10],[0,0,0,0,0,0,2,1,1]]
];

// map outline pieces as [lon, lat]; 0 = black, 1 = light grey, 2 = dark grey
const mapFills = ["#000000", "#bcbec0", "#808285"];
const stateShapes = [
[0,[[-124.7,48.4],[-123,48.2],[-122.8,49],[-117,49],[-117,46],[-119,45.9],[-121,45.7],[-122.3,45.6],[-123.5,46.2],[-124,46.3]]],
[0,[[-124,46.3],[-123.5,46.2],[-122.3,45.6],[-121,45.7],[-119,45.9],[-117,46],[-116.9,45.5],[-117.2,44.4],[-117,44],[-117,42],[-124.2,42],[-124.5,43],[-124.1,44.5]]],
[0,[[-117,49],[-116,49],[-116,48],[-114.4,46.6],[-114.5,45.6],[-113.5,45.1],[-113,44.5],[-111.05,44.5],[-111.05,42],[-117,42],[-117,44],[-117.2,44.4],[-116.9,45.5],[-117,46]]],
[1,[[-116,49],[-104.05,49],[-104.05,45],[-111.05,45],[-111.05,44.5],[-113,44.5],[-113.5,45.1],[-114.5,45.6],[-114.4,46.6],[-116,48]]],
[1,[[-104.05,49],[-97.2,49],[-96.6,46],[-104.05,46]]],
[1,[[-104.05,46],[-96.6,46],[-96.5,42.5],[-98,42.8],[-104.05,43]]],
[1,[[-111.05,45],[-104.05,45],[-104.05,41],[-111.05,41]]],
[1,[[-104.05,43],[-98,42.8],[-96.5,42.5],[-95.3,40],[-102.05,40],[-102.05,41],[-104.05,41]]],
[1,[[-109.05,41],[-102.05,41],[-102.05,37],[-109.05,37]]],
[0,[[-102.05,40],[-95.3,40],[-94.6,39.1],[-94.6,37],[-102.05,37]]],
[0,[[-103,37],[-94.6,37],[-94.45,33.7],[-96,33.8],[-97.5,33.9],[-100,34.6],[-100,36.5],[-103,36.5]]],
[0,[[-106.6,32],[-103.05,32],[-103,36.5],[-100,36.5],[-100,34.6],[-97.5,33.9],[-96,33.8],[-94.45,33.7],[-94.05,33.5],[-94.05,31.9],[-93.5,31],[-93.8,29.7],[-95,29.2],[-97,28],[-97.4,26.9],[-97.2,25.95],[-99.1,26.4],[-99.5,27.5],[-100.5,28.9],[-101.4,29.8],[-102.6,29.7],[-103.2,29],[-104.5,29.6],[-106.5,31.75]]],
[2,[[-109.05,37],[-103,37],[-103.05,32],[-106.6,32],[-108.2,31.8],[-108.2,31.35],[-109.05,31.35]]],
[2,[[-114.05,37],[-109.05,37],[-109.05,31.35],[-111.1,31.35],[-114.8,32.5],[-114.5,33.5],[-114.1,34.3],[-114.6,35],[-114.05,36.2]]],
[2,[[-114.05,42],[-111.05,42],[-111.05,41],[-109.05,41],[-109.05,37],[-114.05,37]]],
[2,[[-120,42],[-114.05,42],[-114.05,36.2],[-114.6,35],[-120,39]]],
[1,[[-124.2,42],[-120,42],[-120,39],[-114.6,35],[-114.1,34.3],[-114.5,33.5],[-114.8,32.5],[-117.1,32.5],[-118.4,33.8],[-120.6,34.5],[-121.9,36.6],[-122.5,37.8],[-123.8,39.3],[-124.4,40.4]]],
[2,[[-97.2,49],[-95.15,49],[-94.6,48.7],[-92.5,48.4],[-89.6,48],[-92.1,46.75],[-92.3,46.1],[-92.8,45.6],[-92.8,44.8],[-91.2,43.5],[-96.5,43.5],[-96.6,46]]],
[2,[[-96.5,43.5],[-91.2,43.5],[-90.2,41.8],[-91.4,40.4],[-95.8,40.6],[-96.5,42.5]]],
[2,[[-95.8,40.6],[-91.4,40.4],[-90.2,38.8],[-89.2,37],[-89.7,36],[-90.4,36],[-90.1,36.5],[-94.6,36.5],[-94.6,39.1],[-95.3,40]]],
[1,[[-94.6,36.5],[-90.1,36.5],[-89.7,36],[-90.1,35],[-91.2,33],[-94.05,33],[-94.05,33.5],[-94.45,33.7]]],
[1,[[-94.05,33],[-91.2,33],[-90.9,32.3],[-91.6,31],[-89.7,31],[-89.6,30.2],[-89.2,29.2],[-90.5,29.1],[-92,29.6],[-93.8,29.7],[-93.5,31],[-94.05,31.9]]],
[2,[[-92.1,46.75],[-90.5,46.9],[-88.1,45.9],[-87.6,45.1],[-87,45.3],[-87.8,43.5],[-87.8,42.5],[-90.6,42.5],[-91.2,43.5],[-92.8,44.8],[-92.8,45.6],[-92.3,46.1]]],
[2,[[-90.6,42.5],[-87.8,42.5],[-87.5,41.7],[-87.5,39.3],[-88.1,37.8],[-89.2,37],[-90.2,38.8],[-91.4,40.4],[-90.2,41.8]]],
[2,[[-87.5,41.7],[-86.9,41.75],[-84.8,41.7],[-84.8,39.1],[-86,38],[-88.1,37.8],[-87.5,39.3]]],
[2,[[-84.8,41.7],[-83.4,41.7],[-82.5,41.4],[-80.5,42],[-80.5,40.6],[-81.7,39.3],[-82.6,38.4],[-84.8,39.1]]],
[2,[[-86.9,41.75],[-83.4,41.7],[-82.4,43],[-82.9,44],[-83.5,45.3],[-84.8,45.8],[-85.6,45],[-86.4,44],[-86.2,42.8]]],
[2,[[-90.5,46.6],[-88.1,47.4],[-87.4,46.5],[-85,46.7],[-84.2,46],[-85.5,46],[-87,45.7],[-87.6,45.1],[-88.1,45.9]]],
[1,[[-89.2,37],[-88.1,37.8],[-86,38],[-84.8,39.1],[-82.6,38.4],[-82,37.5],[-83.7,36.6],[-89.4,36.5]]],
[1,[[-90.1,35],[-89.7,36],[-89.4,36.5],[-83.7,36.6],[-81.7,36.6],[-84.3,35]]],
[1,[[-91.2,33],[-90.1,35],[-88.2,35],[-88.4,30.3],[-89.6,30.2],[-89.7,31],[-91.6,31],[-90.9,32.3]]],
[1,[[-88.2,35],[-85.6,35],[-85,32.3],[-85,31],[-87.6,31],[-87.5,30.3],[-88.4,30.3]]],
[1,[[-85.6,35],[-83.1,35],[-81,32.1],[-81.4,30.7],[-82.2,30.5],[-84.9,30.7],[-85,32.3]]],
[1,[[-87.6,31],[-85,31],[-84.9,30.7],[-82.2,30.5],[-81.4,30.7],[-80.5,28.2],[-80,26.8],[-80.3,25.3],[-81.1,25.2],[-81.8,26.2],[-82.8,27.9],[-82.8,29],[-84,30.1],[-85.3,29.7],[-87.5,30.3]]],
[1,[[-83.1,35],[-82.3,35.2],[-81,35.1],[-80.8,34.8],[-79.7,34.8],[-78.6,33.9],[-79.2,33.2],[-81,32.1]]],
[1,[[-84.3,35],[-81.7,36.6],[-75.9,36.55],[-75.5,35.3],[-76.6,34.7],[-77.9,33.9],[-78.6,33.9],[-79.7,34.8],[-80.8,34.8],[-81,35.1],[-82.3,35.2],[-83.1,35]]],
[1,[[-83.7,36.6],[-82,37.5],[-81.3,37.3],[-80.3,37.5],[-79.3,38.4],[-78.4,39.2],[-77.7,39.3],[-77.1,38.9],[-76.3,37.9],[-76,37],[-75.9,36.55],[-81.7,36.6]]],
[0,[[-82.6,38.4],[-81.7,39.3],[-80.5,40.6],[-80.5,39.7],[-79.5,39.7],[-79.5,39.2],[-78.4,39.6],[-77.7,39.3],[-78.4,39.2],[-79.3,38.4],[-80.3,37.5],[-81.3,37.3],[-82,37.5]]],
[0,[[-80.5,42],[-79.8,42.3],[-79.8,42],[-75.3,42],[-74.7,41.35],[-75.1,40.9],[-74.8,40.2],[-75.4,39.8],[-80.5,39.7]]],
[0,[[-79.5,39.7],[-75.8,39.7],[-75.05,38.45],[-76,38],[-76.3,39],[-76.5,38.5],[-77.1,38.9],[-77.7,39.3],[-78.4,39.6],[-79.5,39.2]]],
[0,[[-75.8,39.7],[-75.4,39.8],[-75.05,38.45],[-75.7,38.45]]],
[0,[[-74.7,41.35],[-73.9,41],[-74,40.4],[-74.1,39.7],[-74.9,38.95],[-75.5,39.5],[-74.8,40.2],[-75.1,40.9]]],
[0,[[-79.8,42.3],[-79,42.7],[-79,43.3],[-76.8,43.3],[-76.2,43.6],[-76.3,44.2],[-75,45],[-73.35,45],[-73.3,43.6],[-73.3,42.7],[-73.5,42],[-73.7,41.1],[-72,41],[-73.9,40.6],[-73.9,41],[-74.7,41.35],[-75.3,42],[-79.8,42]]],
[0,[[-73.35,45],[-71.5,45],[-72.5,42.75],[-73.3,42.7],[-73.3,43.6]]],
[0,[[-71.5,45],[-71.1,45.3],[-70.7,43.1],[-71.3,42.7],[-72.5,42.75]]],
[0,[[-71.1,45.3],[-70.3,46.2],[-70,46.7],[-69.2,47.45],[-68.3,47.35],[-67.8,47],[-67.8,45.7],[-67,44.9],[-69,44],[-70.2,43.6],[-70.7,43.1]]],
[0,[[-73.5,42.05],[-71.8,42],[-71.4,42],[-71.1,41.5],[-70,41.6],[-70.6,42],[-70.8,42.7],[-71.3,42.7],[-72.5,42.75],[-73.3,42.7]]],
[0,[[-73.5,42.05],[-71.8,42],[-71.8,41.3],[-73.7,41]]],
[0,[[-71.8,42],[-71.4,42],[-71.1,41.5],[-71.8,41.3]]]
];

const firstBlock = [["Northwest", northwest], ["California", california], ["Southwest", southwest], ["Northern Plains", northernPlains]];
const secondBlock = [["Southern Plains", southernPlains], ["Midwest", midwest], ["Southeast", southeast], ["Northeast", northeast]];

const fontSize = 24;
const panelW = 253, panelH = 54.5, rowStep = 60.55, colXs = [68, 340.5, 612.5, 884.7];
const svg = d3.select("#chart");
const defs = svg.append("defs");
// notched arrow head, drawn pointing along +x so orient=auto follows the line
defs.append("marker").attr("id", "head").attr("viewBox", "0 0 18 14").attr("refX", 18).attr("refY", 7)
  .attr("markerWidth", 18).attr("markerHeight", 14).attr("markerUnits", "userSpaceOnUse").attr("orient", "auto")
  .append("path").attr("d", "M0,0 L5,7 L0,14 L18,7 Z");

function text(x, y, str, opts = {}) {
  return svg.append("text").attr("x", x).attr("y", y).text(str)
    .attr("font-size", opts.size || fontSize)
    .attr("text-anchor", opts.anchor || "start")
    .attr("fill", opts.fill || "#000")
    .attr("font-weight", opts.weight || null);
}
function lines(x, y, rows, opts = {}) {
  rows.forEach((r, i) => text(x, y + i * (opts.step || 30), r, opts));
}
function seg(x1, y1, x2, y2, color = "#000", width = 2) {
  return svg.append("line").attr("x1", x1).attr("y1", y1).attr("x2", x2).attr("y2", y2)
    .attr("stroke", color).attr("stroke-width", width);
}

// title band
svg.append("rect").attr("width", 1230).attr("height", 50).attr("fill", "#e6e7e8");
svg.append("text").attr("x", 615).attr("y", 36).attr("text-anchor", "middle")
  .attr("font-family", "Liberation Serif").attr("font-weight", "bold").attr("font-size", 32)
  .attr("textLength", 689).attr("lengthAdjust", "spacingAndGlyphs")
  .text("Drought Extent and Intensity by Region over Time");

// locator map
const projection = d3.geoMercator().scale(502).translate([1527.6, 647.7]);
const outline = d3.line().curve(d3.curveLinearClosed);
svg.append("g").selectAll("path").data(stateShapes).join("path")
  .attr("d", d => outline(d[1].map(projection)))
  .attr("fill", d => mapFills[d[0]])
  .attr("stroke", "#989a9d").attr("stroke-width", 1).attr("stroke-linejoin", "round");

function dot(x, y, r = 3) {
  svg.append("circle").attr("cx", x).attr("cy", y).attr("r", r).attr("fill", "none").attr("stroke", "#000").attr("stroke-width", 1.2);
}
lines(303.5, 99, ["Northwest", "(including Alaska)"]);
text(606, 99, "Northern", { anchor: "middle" });
text(606, 129, "Plains", { anchor: "middle" });
text(688.6, 129, "Midwest");
text(821, 129, "Northeast");
text(302, 287, "California");
lines(302, 342, ["Southwest", "(including Hawaii)"]);
text(443, 423, "Southern Plains");
text(691, 423, "Southeast");
seg(469, 138, 469, 155, "#000", 1.5);
seg(607, 138, 607, 165, "#000", 1.5); dot(607, 168.5);
seg(736.5, 136, 736.5, 187, "#000", 1.5); dot(736.5, 190.5);
seg(876, 138, 876, 199, "#000", 1.5);
seg(414, 278, 465, 278, "#000", 1.5); dot(468, 278);
seg(506, 361.6, 537.5, 331, "#000", 1.5); dot(539, 328);
seg(626, 410, 651, 383.5, "#000", 1.5);
seg(766, 402, 766, 344, "#000", 1.5); dot(766, 340.6);

// legend
text(69, 484, "Category:", { fill: "#00aeef", weight: "bold" });
const legendBoxX = [205.5, 377, 532, 672, 812.5];
const legendTextX = [231, 403, 558.5, 698, 839];
categories.forEach((c, i) => {
  svg.append("rect").attr("x", legendBoxX[i]).attr("y", 463).attr("width", 18.5).attr("height", 62).attr("fill", categoryColors[i]);
  lines(legendTextX[i], 484, c.split(" "), { fill: "#00aeef" });
});
lines(1223.5, 443, ["Percent of", "Region That", "Experienced", "Drought", "Each Week"], { fill: "#00aeef", anchor: "end" });
seg(1188, 576, 1188, 616).attr("marker-end", "url(#head)");

text(72, 553, "First bar:", { anchor: "middle" });
text(71, 582.5, "Week 1", { anchor: "middle" });
text(317.5, 582.5, "Week 52", { anchor: "middle" });

// small multiples
const yPct = d3.scaleLinear().domain([0, 100]).range([53.7, 0]);
const xWeek = d3.scaleBand().domain(d3.range(53)).range([1, 1 + 53 * 4.74]).paddingInner(0.06);

function weekCount(year) {
  if (year === 2021) return weeksIn2021;
  return longYears.includes(year) ? 53 : 52;
}

function drawBlock(regions, top, titleY, labelY) {
  regions.forEach(([name, rows], c) => {
    text(colXs[c] + 130, titleY, name, { anchor: "middle" });
    const col = svg.append("g").attr("transform", `translate(${colXs[c]},${top})`);
    years.forEach((year, r) => {
      const panel = col.append("g").attr("transform", `translate(0,${r * rowStep})`);
      const n = weekCount(year);
      panel.append("rect").attr("width", year === 2021 ? 172.5 : panelW).attr("height", panelH).attr("fill", "#ebedec");
      rows[r].forEach((layer, i) => {
        // a 53rd week shares the last value; a layer cut short is zero from there on
        const bars = d3.range(n).map(w => ({ w, v: layer[Math.min(Math.floor(w / weeksPerValue), 12)] || 0 }));
        panel.append("g").attr("fill", categoryColors[i]).selectAll("rect")
          .data(bars.filter(d => d.v > 0)).join("rect")
          .attr("x", d => xWeek(d.w)).attr("width", xWeek.bandwidth())
          .attr("y", d => yPct(d.v)).attr("height", d => yPct(0) - yPct(d.v));
      });
    });
  });
  years.forEach((year, r) => {
    text(30, labelY + r * 60.06, year, { anchor: "middle", size: 24.5 });
    // percent bracket beside each row
    svg.append("g").attr("transform", `translate(1152,${top + r * rowStep})`)
      .call(d3.axisRight(yPct).tickValues([25, 50, 75]).tickSize(8).tickSizeOuter(12).tickFormat(""))
      .call(g => g.selectAll("path,line").attr("stroke", "#000").attr("stroke-width", 2));
  });
  text(1165.5, top + 7, tickLabels[0]);
  text(1169, top + 59, tickLabels[1]);
}
drawBlock(firstBlock, 637, 622, 678.7);
drawBlock(secondBlock, 2249, 2235.7, 2287);

// first/last bar arrows
seg(72, 593, 72, 688).attr("marker-end", "url(#head)");
seg(317, 593, 317, 688).attr("marker-end", "url(#head)");

// callouts
function callout(points, whiteTo) {
  const line = d3.line();
  svg.append("path").attr("d", line(points)).attr("fill", "none").attr("stroke", "#000").attr("stroke-width", 2);
  seg(points[0][0], points[0][1], whiteTo[0], whiteTo[1], "#fff", 2);
  svg.append("circle").attr("cx", points[0][0]).attr("cy", points[0][1]).attr("r", 3.5).attr("fill", "#fff");
}
callout([[467, 1652], [467, 2025]], [467, 1660]);
callout([[1089.4, 1410], [1089.4, 2025]], [1089.4, 1416]);
callout([[741, 2716], [741, 3594]], [741, 2727]);
callout([[247.4, 2945], [569, 2623.7]], [267, 2926]);
callout([[492, 3019.4], [569, 2942.5], [569, 2184]], [505, 3007]);
seg(237, 1962, 237, 1979);
svg.append("circle").attr("cx", 237).attr("cy", 1962).attr("r", 2.5).attr("fill", "#000");
text(88, 2002, "September 1–7, 2021", { fill: "#939598" });

lines(68, 2051.4, ["California experienced its hottest drought", "in recorded history from 2012 to 2016. A", "warming climate makes the atmosphere", "thirstier, which increases evaporation", "and boosts drought."]);
lines(556.5, 2051.4, ["A drought that originated in the Southern Plains in", "2011 eventually spread to the Midwest and Northern", "Plains when the moisture coming in from the Gulf of", "Mexico was absorbed by the parched South before", "it could reach the North."]);
lines(613, 3621, ["The Southeast’s driest year to date was 2007,", "when only 31.85 inches of rain fell in Atlanta,", "62 percent of its average yearly rainfall."]);
</script>
</body>
</html>
